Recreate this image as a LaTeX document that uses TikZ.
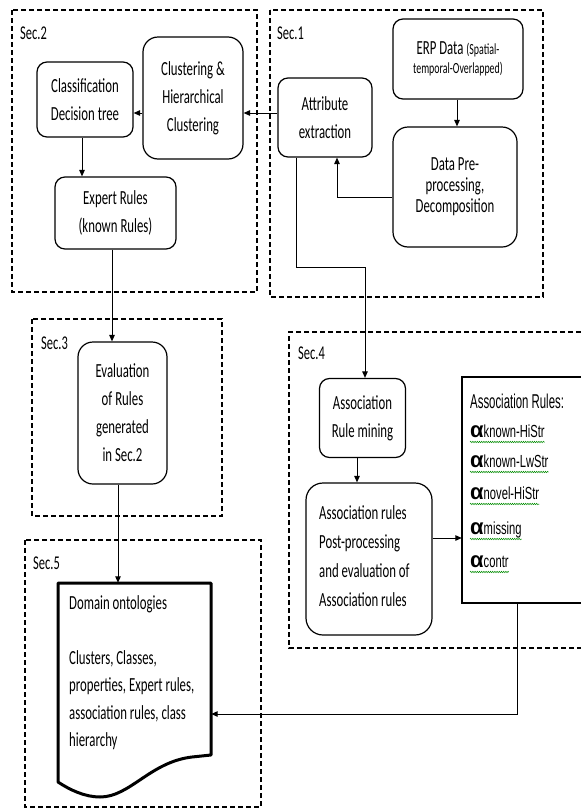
\documentclass[tikz,border=0pt]{standalone}
\usepackage{fontspec}
\setmainfont{Carlito}[FakeStretch=0.64]
\newfontfamily\arialn{Liberation Sans}[FakeStretch=0.57]
\newfontfamily\arialsub{Liberation Sans}[FakeStretch=0.64]
\newfontfamily\alphafont{Liberation Sans}
\usetikzlibrary{arrows.meta,decorations.pathmorphing}
\newcommand{\mainfs}{\fontsize{20}{28}\selectfont}
\newcommand{\arow}[1]{{\alphafont\bfseries\fontsize{22}{22}\selectfont α}{\arialsub\fontsize{17.5}{17.5}\selectfont #1}}
\begin{document}
\begin{tikzpicture}[x=1pt,y=-1pt,
  box/.style={draw, line width=1.2pt, rounded corners=10pt, align=center, inner sep=0pt, font=\mainfs},
  bigbox/.style={box, rounded corners=15pt},
  secbox/.style={draw, line width=1.3pt, dash pattern=on 5pt off 3pt},
  seclbl/.style={anchor=west, inner sep=0pt, font=\fontsize{19.5}{19.5}\selectfont},
  arr/.style={line width=1pt, -{Triangle[length=6.5pt,width=5.5pt]}},
  rline/.style={anchor=base west, inner sep=0pt},
  wavy/.style={draw=green!55!black, line width=0.5pt, decorate, decoration={snake, amplitude=0.7pt, segment length=2.2pt}}]
\useasboundingbox (0,0) rectangle (581,809);

% section frames
\draw[secbox] (12,10) rectangle (257,292);
\draw[secbox] (270,10) rectangle (543,297);
\draw[secbox] (32,319) rectangle (222,516);
\draw[secbox] (581,332) -- (289,332) -- (289,648) -- (581,648);
\draw[secbox] (25,540) rectangle (261,807);
\node[seclbl] (l2) at (20,33) {Sec.2};
\node[seclbl] (l1) at (277,33) {Sec.1};
\node[seclbl] (l3) at (41,343) {Sec.3};
\node[seclbl] (l4) at (298,353) {Sec.4};
\node[seclbl] (l5) at (33,563) {Sec.5};

% Sec.1
\node[box, minimum width=130pt, minimum height=80pt, font=\fontsize{20}{19}\selectfont] (erp) at (458,59)
  {ERP Data {\fontsize{15.5}{19}\selectfont(Spatial-}\\{\fontsize{15.5}{19}\selectfont temporal-Overlapped)}};
\node[box, minimum width=94pt, minimum height=79pt] (attr) at (325,117.5) {Attribute\\extraction};
\node[bigbox, minimum width=124pt, minimum height=120pt, font=\fontsize{20}{21}\selectfont] (dp) at (455,187)
  {Data Pre-\\processing,\\Decomposition};

% Sec.2
\node[bigbox, minimum width=100pt, minimum height=122pt] (clust) at (193,98) {Clustering \&\\Hierarchical\\Clustering};
\node[box, minimum width=96pt, minimum height=75pt] (class) at (85,99.5) {Classification\\Decision tree};
\node[box, minimum width=121pt, minimum height=72pt] (expert) at (115.5,213) {Expert Rules\\(known Rules)};

% Sec.3
\node[bigbox, minimum width=89pt, minimum height=142pt] (eval) at (122.5,413) {Evaluation\\of Rules\\generated\\in Sec.2};

% Sec.4
\node[box, minimum width=86pt, minimum height=79pt] (mining) at (362.5,418) {Association\\Rule mining};
\node[bigbox, rounded corners=17pt, minimum width=126pt, minimum height=152pt] (post) at (369,559) {};
\node[anchor=west, inner sep=0pt, align=left, font=\fontsize{20}{29}\selectfont] (posttext) at (319,556)
  {Association rules\\Post-processing\\and evaluation of\\Association rules};
\node[inner sep=0pt, minimum width=138pt, minimum height=226pt] (rules) at (531,490) {};
\draw[line width=1.2pt] (581,377) -- (462,377) -- (462,603) -- (581,603);
\node[rline, font=\arialn\fontsize{20}{20}\selectfont] (r0) at (470,408) {Association Rules:};
\node[rline] (r1) at (470,437) {\arow{known-HiStr}};
\node[rline] (r2) at (470,467) {\arow{known-LwStr}};
\node[rline] (r3) at (470,499) {\arow{novel-HiStr}};
\node[rline] (r4) at (470,534) {\arow{missing}};
\node[rline] (r5) at (470,567) {\arow{contr}};
\foreach \r in {r1,r2,r3,r4,r5}
  \draw[wavy] ([yshift=-5pt]\r.base west) -- ([yshift=-5pt]\r.base east);

% Sec.5 document
\draw[line width=3pt, line join=round] (58,583) -- (211,583) -- (211,755) -- (192,757)
  .. controls (150,762) and (130,797) .. (100,797)
  .. controls (85,797) and (70,790) .. (58,782) -- cycle;
\node[inner sep=0pt, minimum width=153pt, minimum height=199pt] (doc) at (134.5,682.5) {};
\node[anchor=west, inner sep=0pt, align=left, font=\fontsize{20}{27.5}\selectfont] (doctext) at (69,673)
  {Domain ontologies\\[27pt]Clusters, Classes,\\properties, Expert rules,\\association rules, class\\hierarchy};

% helper coordinates
\coordinate (Y113) at (0,113);
\coordinate (X82) at (82,0);
\coordinate (X112) at (112,0);
\coordinate (X118) at (118,0);
\coordinate (X457) at (457,0);
\coordinate (Y197) at (0,197);
\coordinate (X337) at (337,0);
\coordinate (X296) at (296,0);
\coordinate (Y267) at (0,267);
\coordinate (X365) at (365,0);
\coordinate (X357) at (357,0);
\coordinate (Y538) at (0,538);
\coordinate (X517) at (517,0);
\coordinate (Y714) at (0,714);

% connectors
\draw[arr] (attr.west |- Y113) -- (clust.east |- Y113);
\draw[arr] (clust.west |- Y113) -- (class.east |- Y113);
\draw[arr] (class.south -| X82) -- (expert.north -| X82);
\draw[arr] (expert.south -| X112) -- (eval.north -| X112);
\draw[arr] (eval.south -| X118) -- (doc.north -| X118);
\draw[arr] (erp.south -| X457) -- (dp.north -| X457);
\draw[arr] (dp.west |- Y197) -| (attr.south -| X337);
\draw[arr] (attr.south -| X296) |- (Y267 -| X365) -- (mining.north -| X365);
\draw[arr] (mining.south -| X357) -- (post.north -| X357);
\draw[arr] (post.east |- Y538) -- (rules.west |- Y538);
\draw[arr] (rules.south -| X517) |- (doc.east |- Y714);
\end{tikzpicture}
\end{document}
